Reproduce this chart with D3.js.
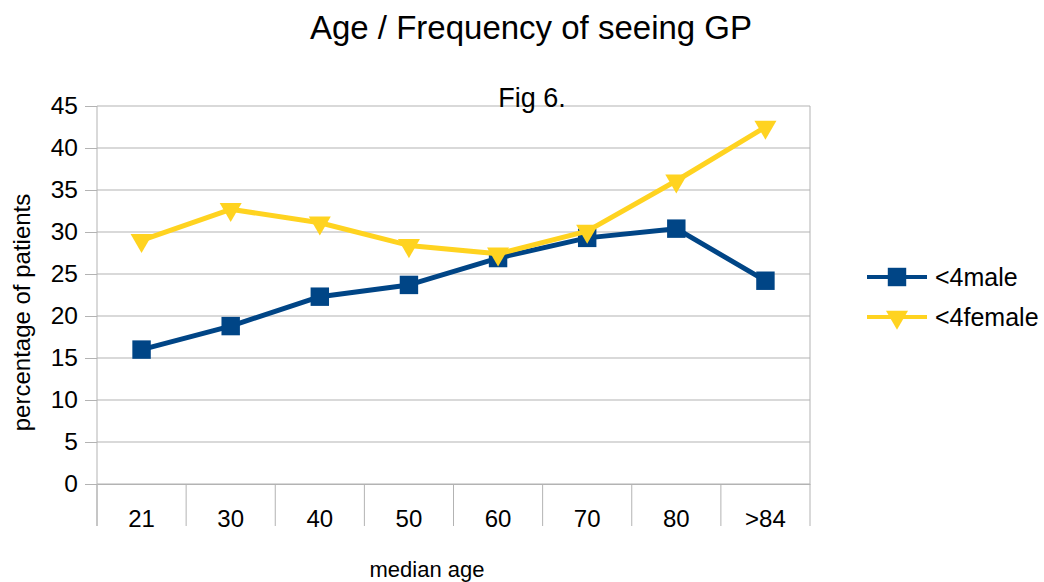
<!DOCTYPE html>
<html><head><meta charset="utf-8">
<script src="https://cdn.jsdelivr.net/npm/d3@7"></script>
<style>body{margin:0;background:#fff;}svg{display:block;font-family:"Liberation Sans",Arial,sans-serif;}</style>
</head><body>
<svg id="c" width="1044" height="582"></svg>
<script>
const categories = ["21","30","40","50","60","70","80",">84"];
const male = [16.0, 18.8, 22.3, 23.7, 26.9, 29.3, 30.4, 24.2];
const female = [29.0, 32.7, 31.1, 28.4, 27.4, 30.1, 36.1, 42.5];
const yTicks = [0,5,10,15,20,25,30,35,40,45];
const seriesNames = ["<4male","<4female"];
const colors = ["#004586","#ffd320"];

const svg = d3.select("#c");
const FF = "Liberation Sans, Arial, sans-serif";
const L=97, R=810, T=106, B=484;
const x = d3.scaleBand().domain(categories).range([L,R]);
const y = d3.scaleLinear().domain([0,45]).range([B,T]);

// grid
svg.append("g").selectAll("line").data(yTicks).join("line")
  .attr("x1",L).attr("x2",R).attr("y1",d=>y(d)).attr("y2",d=>y(d))
  .attr("stroke","#b3b3b3").attr("stroke-width",1);
svg.append("line").attr("x1",R).attr("x2",R).attr("y1",T).attr("y2",B).attr("stroke","#b3b3b3");

// y axis
const ya = svg.append("g").attr("transform",`translate(${L},0)`)
  .call(d3.axisLeft(y).tickValues(yTicks).tickSize(12).tickPadding(7));
ya.select(".domain").remove();
ya.append("line").attr("x1",0).attr("x2",0).attr("y1",T).attr("y2",B+42).attr("stroke","#b3b3b3");
ya.selectAll(".tick line").attr("stroke","#b3b3b3");
ya.selectAll("text").attr("font-size",24.5).attr("fill","#000").attr("font-family",FF);

// x axis
const xa = svg.append("g").attr("transform",`translate(0,${B})`)
  .call(d3.axisBottom(x).tickSize(0).tickPadding(26));
xa.select(".domain").attr("stroke","#b3b3b3");
xa.selectAll("text").attr("font-size",24).attr("fill","#000").attr("font-family",FF);
const bounds = categories.map(c=>x(c)).concat([R]);
svg.append("g").selectAll("line").data(bounds).join("line")
  .attr("x1",d=>d).attr("x2",d=>d).attr("y1",B).attr("y2",B+42)
  .attr("stroke","#b3b3b3");

const cx = c => x(c)+x.bandwidth()/2;
const line = d3.line().x((d,i)=>cx(categories[i])).y(d=>y(d));
const sq = d3.symbol().type(d3.symbolSquare).size(340);
const tri = d3.symbol().type(d3.symbolTriangle).size(210);

svg.append("path").datum(male).attr("d",line).attr("fill","none").attr("stroke",colors[0]).attr("stroke-width",5).attr("stroke-linejoin","round");
svg.append("g").selectAll("path").data(male).join("path")
  .attr("d",sq).attr("transform",(d,i)=>`translate(${cx(categories[i])},${y(d)})`).attr("fill",colors[0]);
svg.append("path").datum(female).attr("d",line).attr("fill","none").attr("stroke",colors[1]).attr("stroke-width",5).attr("stroke-linejoin","round");
svg.append("g").selectAll("path").data(female).join("path")
  .attr("d",tri).attr("transform",(d,i)=>`translate(${cx(categories[i])},${y(d)}) rotate(180)`).attr("fill",colors[1]);

// titles
svg.append("text").attr("x",531).attr("y",39).attr("text-anchor","middle").attr("font-size",33).text("Age / Frequency of seeing GP");
svg.append("text").attr("x",532).attr("y",107).attr("text-anchor","middle").attr("font-size",27).text("Fig 6.");
svg.append("text").attr("transform","translate(30,312.5) rotate(-90)").attr("text-anchor","middle").attr("font-size",24).text("percentage of patients");
svg.append("text").attr("x",427).attr("y",577).attr("text-anchor","middle").attr("font-size",22).text("median age");

// legend
const lg = svg.append("g");
seriesNames.forEach((n,i)=>{
  const yy = 277 + i*40;
  lg.append("line").attr("x1",867).attr("x2",927).attr("y1",yy).attr("y2",yy).attr("stroke",colors[i]).attr("stroke-width",4);
  lg.append("path").attr("d", i===0 ? sq : tri).attr("transform",`translate(897,${yy})${i===1?" rotate(180)":""}`).attr("fill",colors[i]);
  lg.append("text").attr("x",935).attr("y",yy+9).attr("font-size",25).text(n);
});
</script>
</body></html>
